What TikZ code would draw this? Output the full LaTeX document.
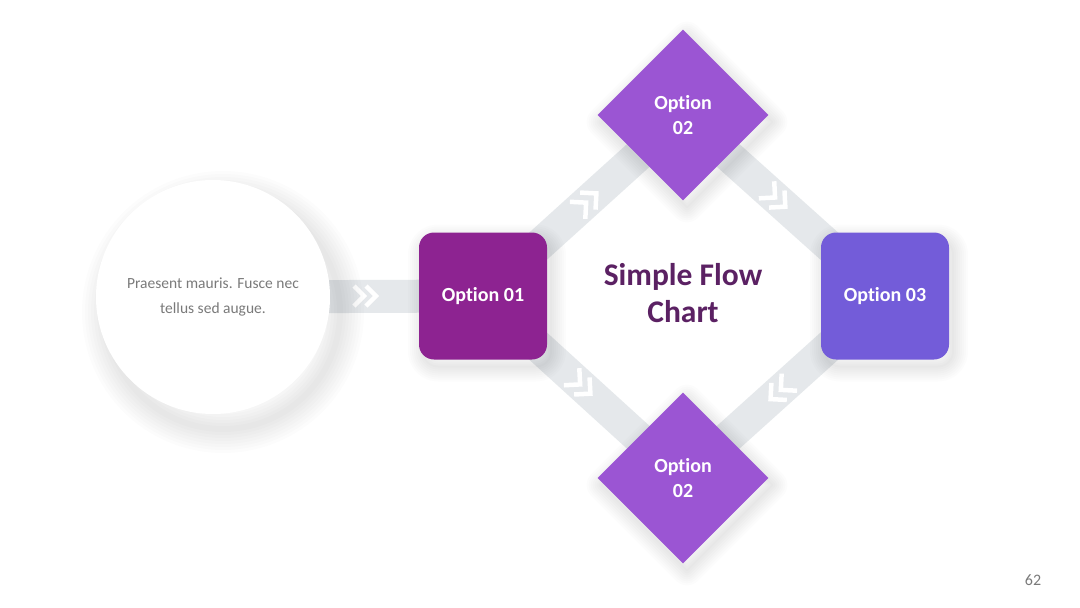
\documentclass[tikz,border=0pt]{standalone}
\usepackage{fontspec}
\setmainfont[Ligatures=NoCommon]{Carlito}
\usetikzlibrary{shapes.geometric,backgrounds,calc}
\definecolor{optA}{HTML}{8D2391}
\definecolor{optB}{HTML}{9B55D3}
\definecolor{optC}{HTML}{735CD9}
\definecolor{titlecol}{HTML}{5B2163}
\definecolor{bandcol}{HTML}{E5E8EB}
\definecolor{txtgray}{HTML}{7A7A7A}
\tikzset{
  shlayer/.style n args={3}{preaction={draw=black, draw opacity=0.012, fill=none, line width=#1, line join=round, transform canvas={shift={(#2,#3)}}}},
  softshadow/.style={shlayer={30pt}{4pt}{-7pt}, shlayer={26pt}{4pt}{-7pt}, shlayer={22pt}{4pt}{-7pt}, shlayer={18pt}{4pt}{-7pt}, shlayer={14pt}{4pt}{-7pt}, shlayer={10pt}{4pt}{-7pt}, shlayer={6pt}{4pt}{-7pt}, shlayer={2pt}{4pt}{-7pt}},
  bigshadow/.style={shlayer={48pt}{10pt}{-15pt}, shlayer={42pt}{10pt}{-15pt}, shlayer={36pt}{10pt}{-15pt}, shlayer={30pt}{10pt}{-15pt}, shlayer={24pt}{10pt}{-15pt}, shlayer={18pt}{10pt}{-15pt}, shlayer={12pt}{10pt}{-15pt}, shlayer={6pt}{10pt}{-15pt}},
  optbox/.style={rounded corners=15pt, minimum width=128pt, minimum height=127pt, inner sep=0pt, text=white, font=\fontsize{20}{22}\selectfont\bfseries, align=center, softshadow},
  optdia/.style={diamond, aspect=1, minimum width=171pt, minimum height=171pt, inner sep=0pt, fill=optB, text=white, font=\fontsize{20}{25}\selectfont\bfseries, align=center, softshadow},
  band/.style={bandcol, line width=32pt, line join=miter},
  chev/.pic={\draw[white, line width=4.5pt, line cap=butt, line join=miter] (-11,-10) -- (-1,0) -- (-11,10) (1,-10) -- (11,0) -- (1,10);}
}
\begin{document}
\begin{tikzpicture}[x=1pt,y=-1pt]
\useasboundingbox (0,0) rectangle (1080,608);
% nodes
\node[circle, fill=white, minimum size=234pt, inner sep=0pt, bigshadow,
      text=txtgray, font=\fontsize{15.5}{25}\selectfont, align=center] (circ) at (213,297)
  {Praesent mauris. Fusce nec\\tellus sed augue.};
\node[optbox, fill=optA] (o1) at (483,296) {Option 01};
\node[optbox, fill=optC] (o3) at (885,296) {Option 03};
\node[optdia] (d1) at (683,115) {Option\\02};
\node[optdia] (d2) at (683,478) {Option\\02};
\node[text=titlecol, font=\fontsize{31.5}{37}\selectfont\bfseries, align=center] (title) at (683,293) {Simple Flow\\Chart};
\node[text=txtgray, font=\fontsize{16}{18}\selectfont] (pg) at (1033,580) {62};
% bands and chevrons
\begin{pgfonlayer}{background}
\fill[white] (0,0) rectangle (1080,608);
\draw[bandcol, line width=33pt] (circ.center) -- (o1.center);
\draw[band] (o1.center) -- (d1.center) -- (o3.center) -- (d2.center) -- cycle;
\pic at (365,296) {chev};
\pic[rotate=42, scale=1.15] at ($(o1.center)!0.52!(d1.center)$) {chev};
\pic[rotate=-42, scale=1.15] at ($(d1.center)!0.46!(o3.center)$) {chev};
\pic[rotate=-42, scale=1.15] at ($(o1.center)!0.49!(d2.center)$) {chev};
\pic[rotate=222, scale=1.15] at ($(o3.center)!0.52!(d2.center)$) {chev};
\end{pgfonlayer}
\end{tikzpicture}
\end{document}
